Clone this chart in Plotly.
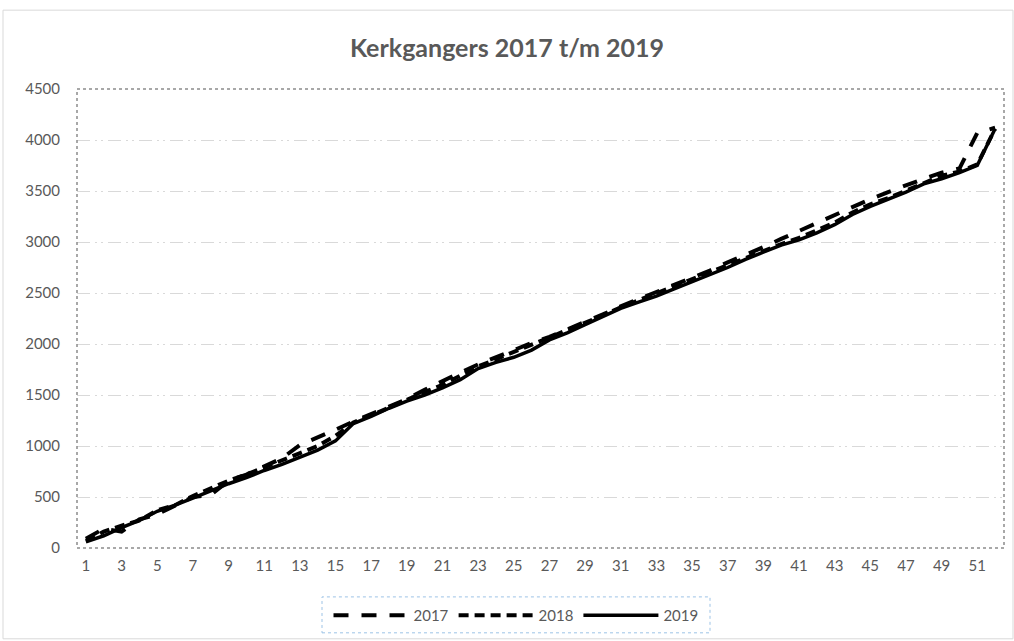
import plotly.graph_objects as go

weeks = list(range(1, 53))

y2017 = [90, 190, 160, 280, 330, 420, 500, 520, 660, 720, 800, 880, 1010, 1080, 1160,
         1240, 1310, 1390, 1460, 1550, 1640, 1720, 1800, 1870, 1950, 2010, 2070, 2140,
         2220, 2290, 2370, 2440, 2500, 2570, 2640, 2720, 2800, 2870, 2950, 3030, 3110,
         3180, 3270, 3350, 3420, 3490, 3560, 3620, 3680, 3720, 4070, 4120]

y2018 = [70, 160, 220, 270, 370, 420, 510, 590, 660, 720, 790, 850, 920, 1000, 1100,
         1230, 1300, 1380, 1450, 1530, 1600, 1690, 1780, 1850, 1920, 1990, 2060, 2130,
         2200, 2280, 2360, 2430, 2490, 2560, 2630, 2700, 2770, 2840, 2910, 2980, 3040,
         3110, 3190, 3290, 3370, 3430, 3500, 3580, 3650, 3690, 3760, 4110]

y2019 = [60, 120, 200, 270, 360, 420, 490, 560, 630, 690, 760, 820, 890, 960, 1050,
         1220, 1290, 1370, 1440, 1500, 1570, 1650, 1760, 1820, 1870, 1940, 2040, 2110,
         2190, 2270, 2350, 2410, 2470, 2540, 2610, 2680, 2750, 2830, 2900, 2970, 3020,
         3090, 3170, 3270, 3350, 3420, 3490, 3570, 3620, 3680, 3750, 4110]

x_tickvals = list(range(1, 53, 2))
x_ticktext = [str(v) for v in x_tickvals]

FONT = "Lato, 'Open Sans', sans-serif"
GREY = "#595959"

fig = go.Figure()
fig.add_trace(go.Scatter(x=weeks, y=y2017, name="2017", mode="lines",
                         line=dict(color="black", width=4, dash="15px,13px")))
fig.add_trace(go.Scatter(x=weeks, y=y2018, name="2018", mode="lines",
                         line=dict(color="black", width=4, dash="10px,6px")))
fig.add_trace(go.Scatter(x=weeks, y=y2019, name="2019", mode="lines",
                         line=dict(color="black", width=3.5)))

L, R, T, B = 77, 10, 89, 92
W, H = 1014, 641
pw, ph = W - L - R, H - T - B

def px_x(p):
    return (p - L) / pw

def px_y(p):
    return (H - B - p) / ph

fig.update_layout(
    width=W, height=H,
    margin=dict(l=L, r=R, t=T, b=B),
    paper_bgcolor="white", plot_bgcolor="white",
    font=dict(family=FONT, color=GREY, size=15),
    title=dict(text="<b>Kerkgangers 2017 t/m 2019</b>", x=0.5, xref="container",
               xanchor="center", y=1 - 48 / H, yanchor="middle",
               font=dict(family=FONT, size=25, color=GREY)),
    showlegend=True,
    legend=dict(orientation="h", x=px_x(516), xanchor="center", y=px_y(599), yanchor="top",
                bordercolor="rgba(0,0,0,0)", borderwidth=0, font=dict(size=15, color=GREY),
                traceorder="normal", itemwidth=75, bgcolor="rgba(0,0,0,0)"),
    xaxis=dict(range=[0.5, 52.5], tickmode="array", tickvals=x_tickvals, ticktext=x_ticktext,
               showgrid=False, zeroline=False, showline=False, ticks="",
               ticklabelstandoff=7, tickfont=dict(size=15, color=GREY)),
    yaxis=dict(range=[0, 4500], dtick=500, showgrid=True, gridcolor="#d9d9d9", gridwidth=1,
               griddash="13px,5px,2px,4px,2px,5px", zeroline=False, showline=False, ticks="",
               ticklabelstandoff=16, tickfont=dict(size=15, color=GREY)),
    shapes=[
        dict(type="rect", xref="paper", yref="paper", x0=0, x1=1, y0=0, y1=1,
             line=dict(color="#8c8c8c", width=1.5, dash="dot"), layer="above"),
        dict(type="rect", xref="paper", yref="paper",
             x0=px_x(3), x1=px_x(1013), y0=px_y(640), y1=px_y(10),
             line=dict(color="#d9d9d9", width=1), layer="below"),
        dict(type="rect", xref="paper", yref="paper",
             x0=px_x(322), x1=px_x(710), y0=px_y(634), y1=px_y(598),
             line=dict(color="#9dc3e6", width=1, dash="dot"), layer="below"),
    ],
)

fig.write_html("out.html", config={"displayModeBar": False},
               post_script="document.body.style.margin='0';document.body.style.overflow='hidden';")
